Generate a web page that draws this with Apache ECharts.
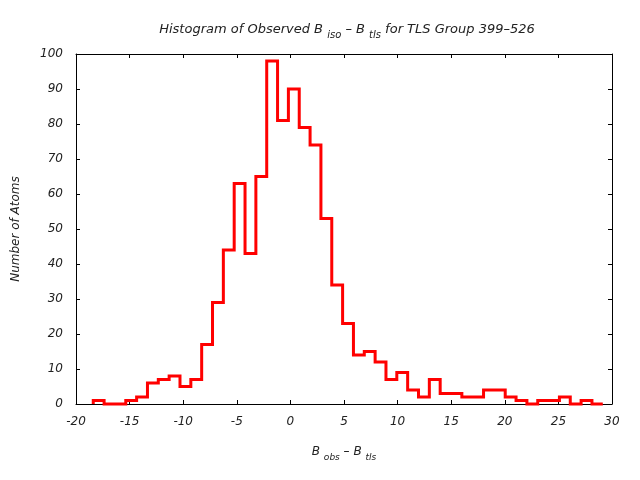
<!DOCTYPE html>
<html>
<head>
<meta charset="utf-8">
<script src="https://cdn.jsdelivr.net/npm/echarts@6/dist/echarts.min.js"></script>
<style>html,body{margin:0;padding:0;background:#fff;}#c{width:640px;height:480px;}</style>
</head>
<body>
<div id="c"></div>
<script>
// Histogram definition
const binStart = -18.39;
const binWidth = 1.0113;
const counts = [1, 0, 0, 1, 2, 6, 7, 8, 5, 7, 17, 29, 44, 63, 43, 65, 98, 81, 90, 79, 74, 53, 34, 23, 14, 15, 12, 7, 9, 4, 2, 7, 3, 3, 2, 2, 4, 4, 2, 1, 0, 1, 1, 2, 0, 1, 0];
const xTicks = [-20, -15, -10, -5, 0, 5, 10, 15, 20, 25, 30];
const yTicks = [0, 10, 20, 30, 40, 50, 60, 70, 80, 90, 100];

// Build histogram step points (left edges with bin value, plus closing edge)
const pts = [[binStart, 0]];
counts.forEach((c, i) => pts.push([binStart + i * binWidth, c]));
pts.push([binStart + counts.length * binWidth, 0]);

const font = 'DejaVu Sans';
const axisCommon = {
  axisLine: { show: true, onZero: false, lineStyle: { color: '#000', width: 1 } },
  axisTick: { show: true, inside: true, length: 4, lineStyle: { color: '#000' } },
  splitLine: { show: false }
};
const labelStyle = { color: '#222', fontFamily: font, fontStyle: 'italic', fontWeight: 'normal', fontSize: 12 };
function richSet(size, subSize) {
  return {
    sub: { fontFamily: font, fontStyle: 'italic', fontWeight: 'normal', fontSize: subSize, color: '#222', verticalAlign: 'bottom', lineHeight: subSize },
    m: { fontFamily: font, fontStyle: 'italic', fontWeight: 'normal', fontSize: size, color: '#222', lineHeight: 20, verticalAlign: 'middle' }
  };
}

const chart = echarts.init(document.getElementById('c'), null, { renderer: 'canvas' });
chart.setOption({
  animation: false,
  backgroundColor: '#fff',
  title: {
    text: '{m|Histogram of Observed B }{sub|iso}{m| \u2013 B }{sub|tls}{m| for TLS Group 399\u2013526}',
    left: 342, top: 15, textAlign: 'center',
    textStyle: { fontWeight: 'normal', rich: richSet(13, 10) }
  },
  grid: { left: 76, right: 28, top: 54, bottom: 76 },
  xAxis: [
    Object.assign({}, axisCommon, {
      type: 'value', min: xTicks[0], max: xTicks[xTicks.length - 1], interval: 5,
      position: 'bottom',
      axisLabel: Object.assign({ margin: 12 }, labelStyle),
      name: '{m|B }{sub|obs}{m| \u2013 B }{sub|tls}',
      nameLocation: 'middle', nameGap: 38,
      nameTextStyle: { fontWeight: 'normal', rich: richSet(12, 9) }
    }),
    Object.assign({}, axisCommon, {
      type: 'value', min: xTicks[0], max: xTicks[xTicks.length - 1], interval: 5,
      position: 'top', axisLabel: { show: false }
    })
  ],
  yAxis: [
    Object.assign({}, axisCommon, {
      type: 'value', min: yTicks[0], max: yTicks[yTicks.length - 1], interval: 10,
      position: 'left',
      axisLabel: Object.assign({ margin: 13 }, labelStyle),
      name: 'Number of Atoms', nameLocation: 'middle', nameGap: 54, nameRotate: 90,
      nameTextStyle: Object.assign({}, labelStyle)
    }),
    Object.assign({}, axisCommon, {
      type: 'value', min: yTicks[0], max: yTicks[yTicks.length - 1], interval: 10,
      position: 'right', axisLabel: { show: false }
    })
  ],
  series: [{
    type: 'line',
    data: pts,
    step: 'end',
    showSymbol: false,
    symbol: 'none',
    clip: false,
    z: 10,
    lineStyle: { color: '#ff0000', width: 3, join: 'miter', cap: 'butt' }
  }]
});
</script>
</body>
</html>
